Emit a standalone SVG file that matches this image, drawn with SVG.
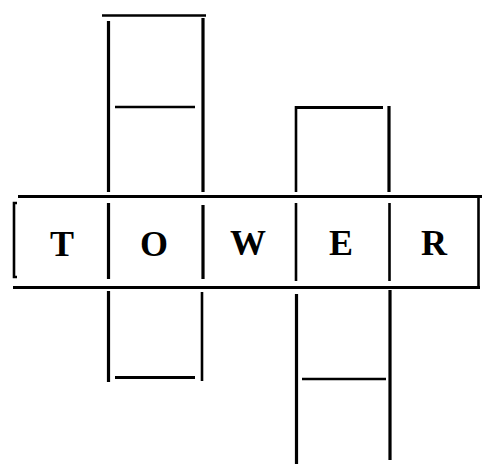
<svg xmlns="http://www.w3.org/2000/svg" width="482" height="465" viewBox="0 0 482 465">
<style>
.ln{stroke:#000;stroke-width:2.6;fill:none;stroke-linecap:butt}
.th{stroke-width:3.2}
.lt{font-family:"Liberation Serif","Times New Roman",serif;font-weight:bold;font-size:36px;fill:#000;text-anchor:middle}
</style>
<rect width="482" height="465" fill="#fff"/>
<g id="connectors">
<!-- upper left column -->
<line class="ln" x1="102" y1="15.5" x2="206" y2="15.5"/>
<line class="ln th" x1="108.5" y1="21" x2="108.5" y2="192"/>
<line class="ln th" x1="203" y1="18" x2="203" y2="192"/>
<line class="ln" x1="115" y1="107" x2="195" y2="107"/>
<!-- upper right column -->
<line class="ln th" x1="295" y1="107.5" x2="383" y2="107.5"/>
<line class="ln" x1="296" y1="106" x2="296" y2="192"/>
<line class="ln th" x1="389" y1="106" x2="389" y2="192"/>
<!-- main row -->
<line class="ln th" x1="18" y1="196.5" x2="482" y2="196.5"/>
<line class="ln th" x1="13" y1="287.5" x2="480" y2="287.5"/>
<polyline class="ln" points="17,203 14,203 14,277 17,277"/>
<line class="ln" x1="478.5" y1="196" x2="478.5" y2="288"/>
<line class="ln th" x1="108.5" y1="203" x2="108.5" y2="279"/>
<line class="ln th" x1="203" y1="205" x2="203" y2="279"/>
<line class="ln" x1="296" y1="203" x2="296" y2="281"/>
<line class="ln" x1="389.5" y1="203" x2="389.5" y2="281"/>
<!-- lower left column -->
<line class="ln th" x1="108.5" y1="291" x2="108.5" y2="382"/>
<line class="ln" x1="202" y1="292" x2="202" y2="381"/>
<line class="ln th" x1="115" y1="377.5" x2="195" y2="377.5"/>
<!-- lower right column -->
<line class="ln th" x1="296.5" y1="294" x2="296.5" y2="464"/>
<line class="ln th" x1="390" y1="290" x2="390" y2="460"/>
<line class="ln" x1="302" y1="379" x2="386" y2="379"/>
</g>
<g id="cell-T"><text class="lt" x="62" y="256">T</text></g>
<g id="cell-O"><text class="lt" x="154" y="256">O</text></g>
<g id="cell-W"><text class="lt" x="248" y="255">W</text></g>
<g id="cell-E"><text class="lt" x="341" y="255">E</text></g>
<g id="cell-R"><text class="lt" x="434" y="255">R</text></g>
</svg>
